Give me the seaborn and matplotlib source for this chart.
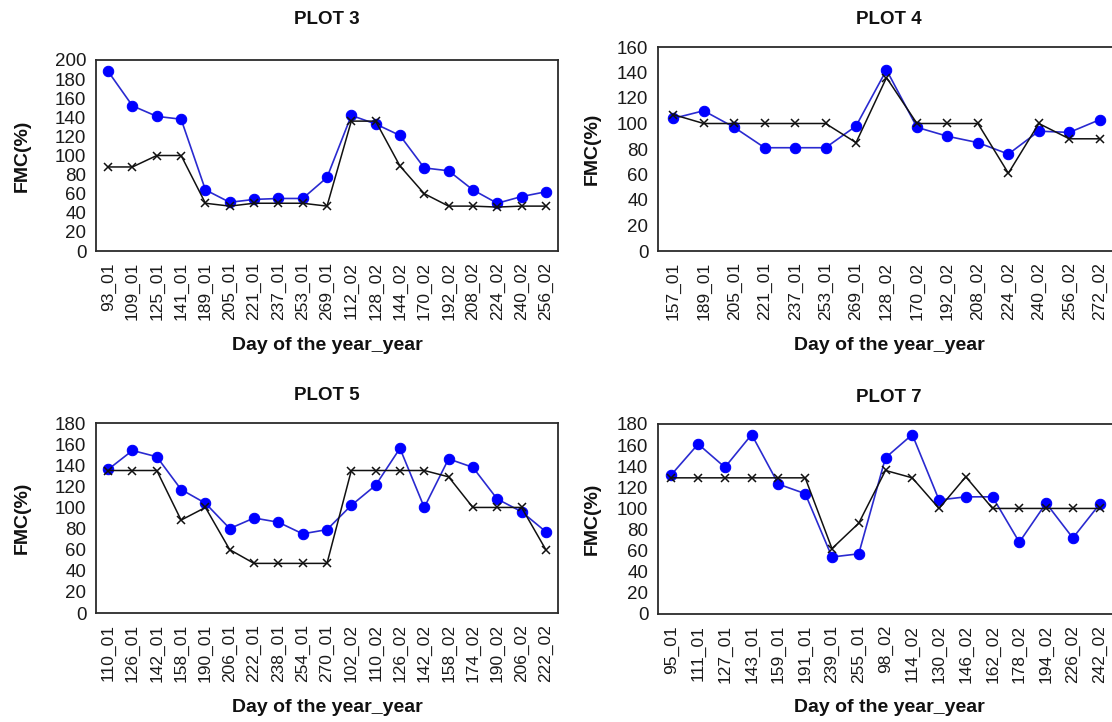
import numpy as np
import pandas as pd
import matplotlib
matplotlib.use("Agg")
import matplotlib.pyplot as plt
import seaborn as sns

# ---------------- data ----------------
p3_labels = ["93_01", "109_01", "125_01", "141_01", "189_01", "205_01", "221_01", "237_01",
             "253_01", "269_01", "112_02", "128_02", "144_02", "170_02", "192_02", "208_02",
             "224_02", "240_02", "256_02"]
p3_blue = [188, 152, 141, 138, 64, 51, 54, 55, 55, 77, 142, 133, 121, 87, 84, 64, 50, 57, 62]
p3_black = [88, 88, 100, 100, 50, 47, 50, 50, 50, 47, 136, 136, 89, 60, 47, 47, 46, 47, 47]

p4_labels = ["157_01", "189_01", "205_01", "221_01", "237_01", "253_01", "269_01", "128_02",
             "170_02", "192_02", "208_02", "224_02", "240_02", "256_02", "272_02"]
p4_blue = [104, 110, 97, 81, 81, 81, 98, 142, 97, 90, 85, 76, 94, 93, 103]
p4_black = [107, 100, 100, 100, 100, 100, 85, 136, 100, 100, 100, 61, 100, 88, 88]

p5_labels = ["110_01", "126_01", "142_01", "158_01", "190_01", "206_01", "222_01", "238_01",
             "254_01", "270_01", "102_02", "110_02", "126_02", "142_02", "158_02", "174_02",
             "190_02", "206_02", "222_02"]
p5_blue = [136, 154, 148, 117, 104, 80, 90, 86, 75, 79, 102, 121, 156, 100, 146, 138, 108, 96, 77]
p5_black = [135, 135, 135, 88, 100, 60, 47, 47, 47, 47, 135, 135, 135, 135, 129, 100, 100, 100, 60]

p7_labels = ["95_01", "111_01", "127_01", "143_01", "159_01", "191_01", "239_01", "255_01",
             "98_02", "114_02", "130_02", "146_02", "162_02", "178_02", "194_02", "226_02", "242_02"]
p7_blue = [132, 161, 139, 170, 123, 114, 54, 57, 148, 170, 108, 111, 111, 68, 105, 72, 104]
p7_black = [129, 129, 129, 129, 129, 129, 62, 86, 136, 129, 100, 130, 100, 100, 100, 100, 100]

titles = ["PLOT 3", "PLOT 4", "PLOT 5", "PLOT 7"]
ymaxes = [200, 160, 180, 180]

# ---------------- style ----------------
sns.set_style("white")
plt.rcParams["font.family"] = ["Liberation Sans", "DejaVu Sans"]

W, H = 1112, 722
fig = plt.figure(figsize=(W / 100, H / 100), dpi=100)
fig.patch.set_facecolor("white")

# axes boxes in pixels: left, right, top, bottom
boxes = [(96, 558, 60, 251), (658, 1115, 47, 251), (96, 558, 423, 613), (658, 1113, 424, 614)]
title_y = [19, 19, 396, 397]
xlabel_y = [345, 345, 707, 707]
ylabel_x = [22, 592, 22, 592]

panels = [(p3_labels, p3_blue, p3_black), (p4_labels, p4_blue, p4_black),
          (p5_labels, p5_blue, p5_black), (p7_labels, p7_blue, p7_black)]

spine_col = "#2b2b2b"
for i, ((labels, blue, black), (l, r, t, b)) in enumerate(zip(panels, boxes)):
    ax = fig.add_axes([l / W, 1 - b / H, (r - l) / W, (b - t) / H])
    ax.set_facecolor("white")
    pos = np.arange(len(labels))
    sns.lineplot(x=pos, y=blue, ax=ax, color="#2a2ad0", linewidth=1.2, marker="o",
                 markersize=7.5, markerfacecolor="#0000ff", markeredgecolor="#0000ff",
                 estimator=None, sort=False)
    sns.lineplot(x=pos, y=black, ax=ax, color="#111111", linewidth=1.1, marker="x",
                 markersize=5.5, markeredgewidth=1.1, markeredgecolor="#111111",
                 estimator=None, sort=False)
    ax.set_xlim(-0.5, len(labels) - 0.5)
    ax.set_ylim(0, ymaxes[i])
    ax.set_yticks(np.arange(0, ymaxes[i] + 1, 20))
    ax.set_xticks(pos)
    ax.set_xticklabels(labels, rotation=90, fontsize=12.5, color="#1a1a1a")
    ax.set_xticks(np.arange(-0.5, len(labels), 1.0), minor=True)
    ax.tick_params(axis="x", which="major", length=0, pad=8)
    ax.tick_params(axis="x", which="minor", length=5, width=1.2, color=spine_col, direction="out")
    ax.tick_params(axis="y", which="major", length=5, width=1.2, color=spine_col,
                   direction="out", labelsize=13.5, labelcolor="#1a1a1a", pad=2)
    ax.set_xlabel("")
    ax.set_ylabel("")
    ax.grid(False)
    for s in ax.spines.values():
        s.set_visible(True)
        s.set_color(spine_col)
        s.set_linewidth(1.3)
    cx = (l + r) / 2 / W
    fig.text(cx if i % 2 == 0 else 889 / W, 1 - title_y[i] / H, titles[i], ha="center",
             va="center", fontsize=13.5, fontweight="bold", color="#111111")
    fig.text(cx if i % 2 == 0 else 889 / W, 1 - xlabel_y[i] / H, "Day of the year_year",
             ha="center", va="center", fontsize=14, fontweight="bold", color="#111111")
    fig.text(ylabel_x[i] / W, 1 - ((t + b) / 2) / H, "FMC(%)", ha="center", va="center",
             rotation=90, fontsize=14, fontweight="bold", color="#111111")

fig.savefig("out.png", dpi=100, facecolor="white")
